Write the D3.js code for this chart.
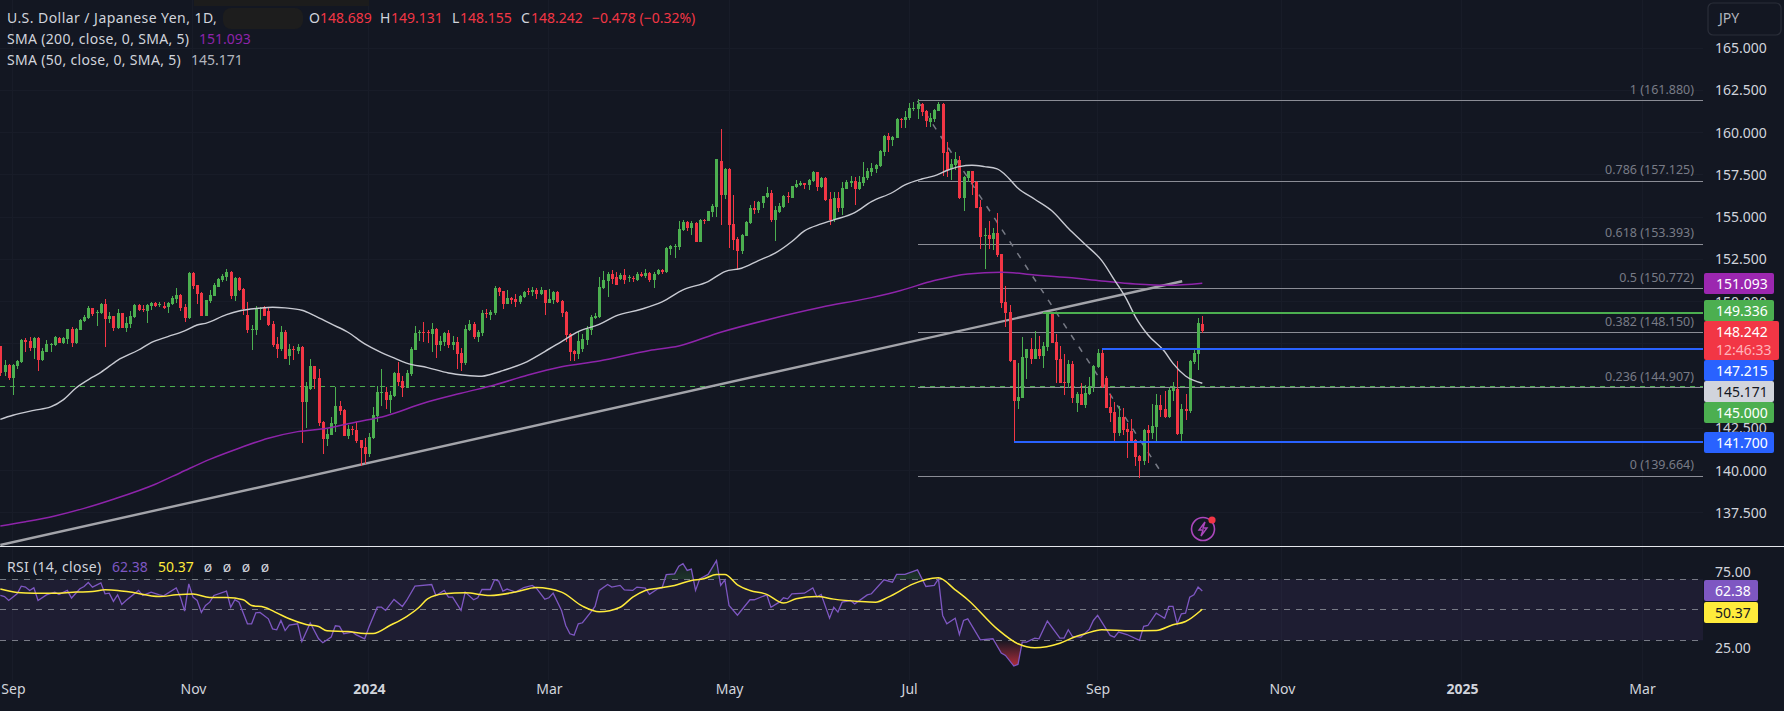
<!DOCTYPE html>
<html>
<head>
<meta charset="utf-8">
<script src="https://cdn.jsdelivr.net/npm/d3@7"></script>
<style>
  html, body { margin: 0; padding: 0; background: #131722; overflow: hidden; }
  text { font-family: "Noto Sans", Roboto, sans-serif; font-size: 14px; }
</style>
</head>
<body>
<div id="chart"></div>
<script>
// o, h, l, c per daily bar
var candles = [
[147.38,147.40,145.60,145.75],[145.86,146.55,145.61,146.26],[146.24,146.30,145.37,145.51],[145.51,146.32,144.48,146.26],[146.20,146.52,146.04,146.49],
[146.44,147.80,146.40,147.74],[147.74,147.86,147.03,147.62],[147.68,147.90,147.09,147.26],[147.26,147.90,146.61,147.86],[147.86,147.88,145.92,146.55],
[146.55,147.26,146.46,147.09],[147.03,147.74,147.00,147.50],[147.48,147.58,147.03,147.52],[147.44,147.97,147.40,147.91],[147.86,147.90,147.54,147.56],
[147.56,147.90,147.52,147.86],[147.80,148.40,147.50,148.37],[148.39,148.51,147.32,147.56],[147.56,148.43,147.52,148.41],[148.33,148.98,148.30,148.92],
[148.84,149.22,148.78,149.12],[149.06,149.75,149.00,149.65],[149.63,149.65,149.18,149.30],[149.37,149.51,148.57,149.41],[149.33,149.95,149.30,149.87],
[149.87,150.16,147.32,148.98],[148.98,149.41,148.76,149.16],[149.16,149.18,148.29,148.45],[148.45,149.57,148.40,149.33],[149.33,149.35,148.42,148.45],
[148.45,149.10,148.21,148.74],[148.68,149.45,148.45,149.16],[149.10,149.87,149.05,149.81],[149.81,149.87,149.47,149.51],[149.57,149.81,149.39,149.51],
[149.45,149.85,148.74,149.81],[149.75,149.97,149.51,149.93],[149.93,149.99,149.69,149.75],[149.85,149.99,149.69,149.89],[149.75,149.99,149.57,149.63],
[149.69,149.96,149.33,149.93],[149.87,150.34,149.81,150.22],[150.16,150.81,149.93,150.40],[150.40,150.46,149.45,149.63],[149.69,149.87,148.80,149.04],
[149.04,151.76,149.00,151.70],[151.70,151.75,150.75,150.93],[150.99,151.00,149.87,150.46],[150.52,150.58,149.14,149.16],[149.16,150.12,149.14,150.10],
[150.04,150.70,149.93,150.40],[150.34,151.11,150.32,150.99],[150.87,151.41,150.85,151.35],[151.29,151.64,151.17,151.52],[151.46,151.94,151.23,151.76],
[151.76,151.80,150.16,150.34],[150.34,151.45,150.04,151.41],[151.41,151.45,150.64,150.70],[150.75,150.81,149.22,149.57],[149.22,149.99,148.15,148.33],
[148.31,148.62,147.15,148.39],[148.33,149.75,148.03,149.63],[149.59,149.71,148.92,149.63],[149.71,149.75,149.14,149.16],[149.45,149.69,148.57,148.62],
[148.68,148.86,147.32,147.44],[147.50,147.91,146.67,147.20],[147.20,148.57,147.09,148.21],[148.21,148.33,146.59,146.61],[146.79,147.50,146.26,147.20],
[147.20,147.38,146.55,147.16],[147.09,147.50,146.91,147.32],[147.32,147.38,141.64,144.07],[144.07,145.25,142.53,145.02],[144.84,146.61,144.80,146.20],
[146.20,146.22,144.84,145.43],[145.49,146.02,142.65,142.83],[142.89,142.95,140.99,141.88],[141.88,142.47,141.47,142.18],[142.12,143.18,142.10,142.83],
[142.77,144.96,142.29,143.83],[143.83,144.13,143.30,143.54],[143.60,143.66,142.04,142.06],[142.06,142.71,141.88,142.47],[142.47,142.65,142.12,142.41],
[142.41,142.89,141.64,141.76],[141.82,141.84,140.28,141.35],[141.41,141.94,140.40,140.99],[140.99,142.24,140.82,142.00],[141.94,143.77,141.88,143.30],
[143.24,145.02,142.89,144.66],[144.62,146.02,143.83,144.66],[144.66,144.96,143.66,144.19],[144.19,144.72,143.42,144.48],[144.42,145.84,144.36,145.78],
[145.78,146.44,145.02,145.25],[145.31,145.61,144.36,144.90],[144.90,145.96,144.88,145.78],[145.73,147.32,145.61,147.20],[147.15,148.57,147.13,148.15],
[148.19,148.33,147.68,148.23],[148.23,148.80,147.62,148.19],[148.19,148.33,147.56,148.15],[148.09,148.74,147.03,148.39],[148.39,148.45,146.67,147.44],
[147.44,147.97,147.09,147.68],[147.62,148.21,147.38,148.15],[148.15,148.33,147.26,147.44],[147.44,147.97,147.15,147.62],[147.62,147.91,146.02,146.91],
[146.97,147.26,145.90,146.38],[146.38,148.62,146.26,148.39],[148.33,148.92,148.27,148.68],[148.68,148.80,147.80,147.91],[147.91,148.33,147.62,148.21],
[148.15,149.51,147.97,149.33],[149.33,149.57,149.04,149.29],[149.22,149.51,148.92,149.39],[149.33,150.93,149.22,150.81],[150.81,150.84,150.34,150.58],
[150.64,150.66,149.57,149.87],[149.87,150.70,149.85,150.22],[150.22,150.28,149.87,150.11],[150.17,150.46,149.69,149.99],[149.99,150.40,149.87,150.34],
[150.28,150.64,150.22,150.58],[150.62,150.82,150.40,150.58],[150.58,150.88,150.34,150.70],[150.70,150.82,150.17,150.46],[150.46,150.88,150.40,150.68],
[150.70,150.72,149.22,149.93],[149.93,150.76,149.91,150.17],[150.11,150.64,149.87,150.58],[150.58,150.64,149.93,149.99],[150.05,150.11,149.10,149.34],
[149.40,149.42,147.62,148.04],[148.10,148.16,146.50,147.03],[147.09,147.15,146.50,146.91],[146.91,148.21,146.62,147.68],[147.21,148.10,147.03,147.80],
[147.74,148.57,147.44,148.39],[148.33,149.22,148.04,149.10],[149.04,149.34,148.98,149.16],[149.10,151.47,149.04,150.88],[150.82,151.82,150.76,151.29],
[151.23,151.76,150.28,151.64],[151.64,151.88,151.05,151.35],[151.47,151.76,150.98,151.00],[151.35,151.70,151.29,151.58],[151.58,151.94,151.05,151.29],
[151.38,151.58,151.17,151.44],[151.41,151.53,151.17,151.37],[151.29,151.76,151.23,151.64],[151.64,151.76,151.47,151.53],[151.53,151.94,151.41,151.70],
[151.70,151.76,151.17,151.29],[151.29,151.76,150.82,151.64],[151.64,151.94,151.58,151.88],[151.88,151.94,151.64,151.76],[151.76,153.24,151.70,153.18],
[153.14,153.36,152.77,153.30],[153.28,153.42,152.59,153.32],[153.24,154.78,153.06,154.31],[154.25,154.84,154.19,154.72],[154.72,154.78,154.19,154.37],
[154.37,154.78,153.95,154.66],[154.66,154.72,153.52,153.54],[153.54,154.90,153.52,154.84],[154.84,154.90,154.60,154.78],[154.78,155.39,154.76,155.37],
[155.31,155.79,155.02,155.67],[155.61,158.47,155.02,158.45],[158.33,160.22,154.54,156.32],[156.32,157.88,156.08,157.86],[157.86,157.88,153.18,154.54],
[154.60,156.32,153.06,153.66],[153.72,153.83,151.88,153.01],[153.01,154.01,152.83,153.95],[153.89,154.78,153.87,154.72],[154.66,155.73,154.60,155.55],
[155.55,155.96,155.19,155.43],[155.43,155.96,155.25,155.90],[155.84,156.28,155.55,156.26],[156.20,156.79,156.14,156.44],[156.44,156.62,154.72,154.84],
[154.84,155.67,153.60,155.43],[155.31,155.85,155.25,155.67],[155.61,156.32,155.55,156.26],[156.26,156.50,155.85,156.20],[156.14,156.87,156.12,156.85],
[156.79,157.21,156.73,156.97],[156.91,157.15,156.85,157.03],[157.03,157.05,156.67,156.91],[156.91,157.23,156.61,157.21],[157.15,157.74,157.09,157.68],
[157.68,157.70,156.55,156.79],[156.79,157.38,156.73,157.32],[157.32,157.38,155.96,156.02],[156.08,156.50,154.54,154.84],[154.84,156.50,154.72,156.14],
[156.14,156.50,155.31,155.55],[155.55,157.09,155.13,156.73],[156.67,157.21,156.65,157.09],[157.03,157.44,156.79,157.15],[157.15,157.38,155.73,156.67],
[156.67,157.44,156.61,157.09],[157.03,158.27,156.85,157.38],[157.32,157.92,157.21,157.74],[157.68,158.21,157.44,157.92],[157.86,158.15,157.62,158.09],
[158.03,158.98,157.97,158.92],[158.86,159.87,158.63,159.81],[159.81,159.99,158.86,159.57],[159.57,159.81,159.22,159.75],[159.69,160.87,159.67,160.81],
[160.81,160.87,160.28,160.77],[160.76,161.29,160.28,160.93],[160.87,161.76,160.76,161.47],[161.41,161.82,161.29,161.45],[161.41,162.00,160.81,161.70],
[161.70,161.76,161.00,161.23],[161.29,161.35,160.34,160.70],[160.64,161.17,160.34,160.87],[160.81,161.41,160.64,161.35],[161.29,161.82,161.27,161.70],
[161.70,161.75,157.44,158.80],[158.86,159.45,157.38,157.80],[157.86,158.45,157.21,158.15],[158.09,158.86,157.80,158.45],[158.39,158.63,156.08,156.14],
[156.14,157.44,155.37,157.38],[157.32,157.76,157.09,157.74],[157.74,157.76,156.32,157.03],[157.09,157.15,155.53,155.55],[155.61,156.02,153.12,153.83],
[153.90,154.37,151.94,153.94],[153.95,154.78,153.12,153.72],[153.72,154.37,153.06,154.07],[154.07,155.25,152.65,152.77],[152.83,152.85,149.63,149.93],
[149.99,150.93,148.51,149.34],[149.39,149.80,146.43,146.49],[146.55,146.57,141.70,144.12],[144.12,146.37,143.65,144.36],[144.30,147.91,144.28,146.73],
[146.67,147.22,145.43,147.20],[147.20,147.85,146.31,146.61],[146.61,148.27,146.59,147.20],[147.20,147.97,146.61,146.79],[146.79,147.62,146.08,147.38],
[147.32,149.39,147.08,149.33],[149.33,149.39,147.54,147.56],[147.62,148.09,145.19,146.55],[146.61,147.38,145.17,145.19],[145.25,146.91,144.48,145.21],
[145.19,146.55,144.89,146.31],[146.31,146.49,144.00,144.30],[144.00,144.66,143.47,144.54],[144.54,145.19,143.87,143.89],[143.89,145.07,143.71,144.60],
[144.54,145.54,144.50,145.01],[144.95,146.25,144.66,146.19],[146.13,147.20,146.10,146.96],[146.96,147.20,144.89,144.95],[145.49,145.60,143.69,143.71],
[143.77,144.54,142.88,143.41],[143.47,144.06,141.76,142.23],[142.23,143.83,142.05,143.18],[143.18,143.71,142.11,142.41],[142.47,142.82,140.75,142.29],
[142.35,143.06,141.74,141.76],[141.82,141.88,140.28,140.81],[140.87,140.93,139.57,140.58],[140.58,142.47,140.34,142.41],[142.41,142.70,140.46,142.23],
[142.23,143.95,141.88,142.65],[142.59,144.54,141.76,143.89],[143.89,144.48,143.18,143.59],[143.65,144.72,143.12,143.18],[143.18,144.90,143.12,144.78],
[144.72,145.25,144.12,144.90],[144.84,146.49,142.11,142.15],[142.17,143.95,141.64,143.65],[143.65,144.54,143.00,143.53],[143.53,146.55,143.41,146.49],
[146.43,147.26,146.31,146.96],[146.91,149.04,145.96,148.74],[148.689,149.131,148.155,148.242]
];

// [bar index, value]
var sma50 = [[0,143.04],[3,143.28],[8,143.57],[12,143.77],[15,144.19],[18,144.88],[22,145.53],[24,145.82],[28,146.53],[33,147.14],[36,147.58],[40,147.93],[44,148.27],[47,148.62],[49,148.72],[54,149.23],[57,149.45],[62,149.62],[65,149.67],[68,149.63],[72,149.49],[75,149.18],[79,148.68],[83,148.19],[87,147.50],[91,146.99],[94,146.67],[97,146.36],[102,146.10],[107,145.78],[111,145.65],[115,145.59],[117,145.69],[120,145.92],[125,146.36],[130,147.05],[134,147.64],[138,148.23],[143,148.66],[147,149.16],[153,149.55],[158,149.99],[163,150.70],[169,151.19],[173,151.78],[177,151.98],[181,152.43],[185,152.87],[189,153.56],[192,154.19],[196,154.60],[199,154.84],[204,155.27],[208,155.92],[213,156.46],[216,156.91],[220,157.26],[223,157.44],[226,157.76],[229,157.99],[232,158.07],[235,157.99],[238,157.86],[240,157.50],[243,156.71],[247,156.06],[251,155.39],[255,154.35],[259,153.40],[263,152.43],[266,151.29],[269,150.11],[271,149.12],[274,148.04],[278,147.05],[280,146.35],[283,145.60],[287,145.171]];
var sma200 = [[0,136.73],[6,136.98],[13,137.32],[20,137.77],[27,138.31],[37,139.20],[43,139.88],[50,140.67],[57,141.33],[64,141.92],[71,142.31],[78,142.51],[85,142.88],[92,143.24],[101,143.99],[110,144.58],[118,145.07],[126,145.66],[134,146.15],[143,146.49],[155,147.11],[162,147.38],[172,148.19],[183,148.92],[196,149.67],[208,150.24],[215,150.66],[223,151.25],[231,151.64],[239,151.74],[247,151.58],[255,151.43],[263,151.23],[271,151.05],[279,150.97],[287,151.093]];
var rsi = [[0,59.4],[1,58.7],[2,56.1],[4,60.5],[5,65.5],[6,64.9],[7,62.7],[8,64.4],[9,56.1],[11,59.8],[13,61.6],[14,60.1],[16,62.7],[17,57.7],[19,63.8],[20,65.3],[21,67.9],[22,64.9],[24,67.7],[25,60.5],[26,60.9],[27,55.5],[28,59.8],[29,53.5],[30,56.1],[33,62.7],[34,59.4],[36,61.6],[38,59.8],[39,59.2],[42,64.4],[43,58.3],[44,49.1],[45,67.0],[46,58.3],[47,56.1],[48,48.3],[49,52.8],[50,55.0],[51,59.4],[54,62.2],[55,51.7],[56,56.6],[57,55.0],[59,40.8],[60,40.8],[61,48.0],[62,48.3],[64,44.1],[65,37.5],[66,36.9],[67,43.0],[68,36.4],[69,39.9],[71,40.8],[72,29.2],[74,41.3],[76,31.0],[77,28.4],[79,32.1],[80,39.5],[81,39.1],[82,34.3],[84,35.4],[85,33.6],[87,31.0],[88,38.6],[90,51.7],[91,51.7],[92,49.6],[94,56.8],[96,52.2],[97,56.1],[99,65.5],[103,66.6],[104,59.4],[106,62.7],[107,58.3],[108,58.3],[110,49.6],[111,61.6],[113,56.6],[114,57.9],[115,63.3],[117,63.3],[118,69.7],[119,68.8],[120,62.2],[121,63.6],[123,61.6],[125,64.6],[127,66.0],[128,64.2],[130,57.0],[131,57.9],[132,60.9],[134,49.6],[135,39.7],[136,34.3],[137,33.4],[138,40.8],[139,41.5],[141,48.5],[142,52.2],[143,62.7],[145,66.6],[146,64.9],[148,66.0],[149,63.1],[151,62.7],[152,64.9],[154,64.2],[155,60.1],[157,63.8],[158,64.4],[159,73.0],[161,73.6],[162,78.6],[163,80.2],[164,75.8],[165,76.7],[166,62.7],[167,70.3],[169,73.2],[171,82.3],[172,66.0],[173,69.7],[174,52.8],[176,46.5],[179,56.6],[180,56.6],[183,59.8],[184,51.7],[186,55.0],[187,57.9],[188,57.2],[189,60.5],[192,60.9],[194,64.4],[195,58.3],[196,60.1],[198,44.5],[199,51.7],[200,48.5],[201,55.0],[203,56.1],[204,53.9],[207,59.8],[208,60.5],[211,69.7],[213,68.1],[214,73.2],[216,73.2],[219,76.2],[221,65.3],[223,66.0],[224,70.3],[225,46.3],[226,40.8],[228,44.5],[229,33.8],[230,43.0],[231,44.1],[234,30.3],[237,31.0],[239,21.6],[240,20.1],[242,13.1],[243,14.2],[244,28.8],[245,28.8],[247,31.4],[248,31.0],[250,42.6],[253,31.4],[254,31.4],[255,36.9],[256,32.5],[258,32.1],[260,37.1],[261,43.0],[262,46.3],[265,33.2],[266,32.1],[267,35.4],[269,33.8],[272,29.9],[273,39.1],[274,39.7],[276,47.8],[278,44.5],[279,52.2],[280,52.2],[281,40.8],[282,47.4],[283,47.8],[284,58.3],[285,59.8],[286,64.9],[287,62.38]];
var rsiMa = [[0,63.6],[4,61.4],[8,60.9],[14,60.9],[18,61.6],[22,62.0],[25,63.1],[28,62.7],[31,61.6],[38,58.7],[42,59.8],[46,60.3],[50,58.1],[54,58.1],[58,56.6],[60,52.8],[63,51.7],[66,48.0],[69,44.1],[73,40.4],[76,39.1],[78,36.2],[83,35.8],[87,34.5],[89,34.5],[93,39.7],[97,45.6],[100,51.7],[102,57.2],[106,60.5],[111,61.1],[117,59.4],[123,61.6],[128,64.6],[134,61.6],[139,52.4],[143,48.7],[148,51.7],[151,58.3],[154,62.7],[157,64.2],[161,66.0],[165,69.2],[168,70.3],[171,73.2],[173,73.2],[176,66.4],[179,62.7],[183,60.1],[187,54.4],[190,57.2],[195,58.7],[199,57.0],[205,55.5],[209,55.0],[212,58.3],[218,67.0],[221,69.9],[224,71.0],[228,63.1],[231,56.6],[238,37.5],[243,27.7],[247,25.1],[253,28.1],[257,32.7],[259,34.3],[263,36.9],[270,36.2],[276,36.4],[280,40.2],[283,42.3],[287,50.37]];

var fibRatios = ["1","0.786","0.618","0.5","0.382","0.236","0"];
var fibPrices = [161.880,157.125,153.393,150.772,148.150,144.907,139.664];
var priceTicks = [137.5,140,142.5,145,147.5,150,152.5,155,157.5,160,162.5,165];
var hiddenTicks = [145,147.5]; // sit fully behind the price tags
var rsiTicks = [25,75];
var rsiLevels = [70,50,30];
var timeTickBars = [3,46,88,131,174,217,262,306,349,392];
var timeTickLabels = ["Sep","Nov","2024","Mar","May","Jul","Sep","Nov","2025","Mar"];
var trendLine = [[0,135.6],[282.2,151.21]];
var hLines = [
  {from:-5,  price:145.0,   color:"#4caf50", w:1, dash:"5,5"},
  {from:249, price:149.336, color:"#4caf50", w:2},
  {from:263, price:147.215, color:"#2962ff", w:2},
  {from:242, price:141.7,   color:"#2962ff", w:2}
];

var W = 1784, H = 711, paneR = 1703, paneB = 546;
var GREEN = "#4caf50", RED = "#f23645", PURPLE = "#9c27b0", SMA_PURPLE = "#8e24aa";

var svg = d3.select("#chart").append("svg").attr("width", W).attr("height", H);
svg.append("rect").attr("width", W).attr("height", H).attr("fill", "#131722");

var x = d3.scaleLinear().domain([0, 287]).range([0.33, 1202.3]);
var y = d3.scaleLinear().domain([139.664, 161.88]).range([476.35, 100.9]);
var yRsi = d3.scaleLinear().domain([30, 70]).range([640.3, 579.3]);

var defs = svg.append("defs");
defs.append("clipPath").attr("id", "pricePane").append("rect").attr("width", paneR).attr("height", paneB);
defs.append("clipPath").attr("id", "over70").append("rect").attr("width", paneR).attr("y", 547).attr("height", yRsi(70) - 547);
defs.append("clipPath").attr("id", "under30").append("rect").attr("width", paneR).attr("y", yRsi(30)).attr("height", 60);
var redGrad = defs.append("linearGradient").attr("id", "redGrad").attr("gradientUnits", "userSpaceOnUse")
  .attr("x1", 0).attr("x2", 0).attr("y1", yRsi(30)).attr("y2", yRsi(13));
redGrad.append("stop").attr("offset", 0).attr("stop-color", RED).attr("stop-opacity", 0.02);
redGrad.append("stop").attr("offset", 1).attr("stop-color", RED).attr("stop-opacity", 0.7);
var greenGrad = defs.append("linearGradient").attr("id", "greenGrad").attr("gradientUnits", "userSpaceOnUse")
  .attr("x1", 0).attr("x2", 0).attr("y1", yRsi(70)).attr("y2", yRsi(82));
greenGrad.append("stop").attr("offset", 0).attr("stop-color", GREEN).attr("stop-opacity", 0.2);
greenGrad.append("stop").attr("offset", 1).attr("stop-color", GREEN).attr("stop-opacity", 0.02);

// faint grid
var grid = svg.append("g").attr("stroke", "#181c28").attr("stroke-width", 1).attr("shape-rendering", "crispEdges");
grid.selectAll(".gv").data(timeTickBars).enter().append("line")
  .attr("x1", d => x(d)).attr("x2", d => x(d)).attr("y1", 0).attr("y2", 680);
grid.selectAll(".gh").data(priceTicks).enter().append("line")
  .attr("x1", 0).attr("x2", paneR).attr("y1", d => y(d)).attr("y2", d => y(d));

var price = svg.append("g").attr("clip-path", "url(#pricePane)");

// fib levels, drawn under the bars
price.selectAll(".fib").data(fibPrices).enter().append("line")
  .attr("x1", x(219)).attr("x2", paneR).attr("y1", d => y(d)).attr("y2", d => y(d))
  .attr("stroke", "#8b8d96").attr("stroke-width", 1).attr("shape-rendering", "crispEdges");
price.append("line")
  .attr("x1", x(219)).attr("y1", y(161.88)).attr("x2", x(277.2)).attr("y2", y(139.9))
  .attr("stroke", "#787b86").attr("stroke-width", 1.5).attr("stroke-dasharray", "6,8");

var dashed = hLines.filter(d => d.dash);
price.selectAll(".hd").data(dashed).enter().append("line")
  .attr("x1", 0).attr("x2", paneR).attr("y1", d => y(d.price)).attr("y2", d => y(d.price))
  .attr("stroke", d => d.color).attr("stroke-width", d => d.w).attr("stroke-dasharray", d => d.dash)
  .attr("shape-rendering", "crispEdges");

price.append("path").datum(trendLine)
  .attr("d", d3.line().x(d => x(d[0])).y(d => y(d[1])))
  .attr("fill", "none").attr("stroke", "#a3a4aa").attr("stroke-width", 2.4);

// bars
var bars = price.selectAll(".bar").data(candles).enter().append("g").attr("class", "bar")
  .attr("fill", d => d[3] >= d[0] ? GREEN : RED)
  .attr("stroke", d => d[3] >= d[0] ? GREEN : RED)
  .attr("shape-rendering", "crispEdges");
bars.append("line")
  .attr("x1", (d, i) => Math.round(x(i)) + 0.5).attr("x2", (d, i) => Math.round(x(i)) + 0.5)
  .attr("y1", d => y(d[1])).attr("y2", d => y(d[2])).attr("stroke-width", 1);
bars.append("rect")
  .attr("x", (d, i) => Math.round(x(i)) - 1).attr("width", 3)
  .attr("y", d => y(Math.max(d[0], d[3])))
  .attr("height", d => Math.max(1, Math.abs(y(d[0]) - y(d[3]))))
  .attr("stroke", "none");

var lineGen = d3.line().curve(d3.curveMonotoneX).x(d => x(d[0])).y(d => y(d[1]));
price.append("path").datum(sma200).attr("d", lineGen).attr("fill", "none").attr("stroke", SMA_PURPLE).attr("stroke-width", 1.5);
price.append("path").datum(sma50).attr("d", lineGen).attr("fill", "none").attr("stroke", "#c8cad2").attr("stroke-width", 1.4);

var solid = hLines.filter(d => !d.dash);
price.selectAll(".hs").data(solid).enter().append("line")
  .attr("x1", d => x(d.from)).attr("x2", paneR).attr("y1", d => y(d.price)).attr("y2", d => y(d.price))
  .attr("stroke", d => d.color).attr("stroke-width", d => d.w).attr("shape-rendering", "crispEdges");

// fib labels
svg.selectAll(".fibLabel").data(fibPrices).enter().append("text")
  .attr("x", 1694).attr("y", d => y(d) - 7).attr("text-anchor", "end")
  .attr("fill", "#787b86").style("font-size", "12.5px")
  .text((d, i) => fibRatios[i] + " (" + d.toFixed(3) + ")");

// lightning badge
var badge = svg.append("g").attr("transform", "translate(1203,529)");
badge.append("circle").attr("r", 11.5).attr("fill", "none").attr("stroke", "#ab47bc").attr("stroke-width", 1.6);
badge.append("path").attr("d", "M2,-7 L-4,1 L0,1 L-2,7 L4,-1 L0,-1 Z").attr("fill", "none").attr("stroke", "#ab47bc").attr("stroke-width", 1.4);
badge.append("circle").attr("cx", 9).attr("cy", -9).attr("r", 3.6).attr("fill", RED);

// pane divider
svg.append("line").attr("x1", 0).attr("x2", W).attr("y1", 546.5).attr("y2", 546.5)
  .attr("stroke", "#e4e6eb").attr("stroke-width", 1.4).attr("shape-rendering", "crispEdges");

// RSI pane
svg.append("rect").attr("x", 0).attr("width", paneR).attr("y", yRsi(70)).attr("height", yRsi(30) - yRsi(70))
  .attr("fill", "#7e57c2").attr("fill-opacity", 0.1);
svg.selectAll(".lvl").data(rsiLevels).enter().append("line")
  .attr("x1", 0).attr("x2", paneR).attr("y1", d => yRsi(d)).attr("y2", d => yRsi(d))
  .attr("stroke", "#787b86").attr("stroke-dasharray", "6,6").attr("shape-rendering", "crispEdges");

svg.append("path").datum(rsi)
  .attr("d", d3.area().x(d => x(d[0])).y0(yRsi(70)).y1(d => yRsi(d[1])))
  .attr("fill", "url(#greenGrad)").attr("clip-path", "url(#over70)");
svg.append("path").datum(rsi)
  .attr("d", d3.area().x(d => x(d[0])).y0(yRsi(30)).y1(d => yRsi(d[1])))
  .attr("fill", "url(#redGrad)").attr("clip-path", "url(#under30)");

var rsiLine = d3.line().x(d => x(d[0])).y(d => yRsi(d[1]));
svg.append("path").datum(rsi).attr("d", rsiLine).attr("fill", "none").attr("stroke", "#7e57c2").attr("stroke-width", 1.3);
svg.append("path").datum(rsiMa).attr("d", rsiLine.curve(d3.curveMonotoneX)).attr("fill", "none").attr("stroke", "#ffeb3b").attr("stroke-width", 1.5);

// axes
function styleAxis(g) {
  g.select(".domain").remove();
  g.selectAll("text").attr("fill", "#d1d4dc").style("font-size", "14px").style("font-family", "'Noto Sans', Roboto, sans-serif");
}
svg.append("g").attr("transform", "translate(1715,0)")
  .call(d3.axisRight(y).tickValues(priceTicks.filter(d => !hiddenTicks.includes(d))).tickFormat(d3.format(".3f")).tickSize(0).tickPadding(0))
  .call(styleAxis);
svg.append("g").attr("transform", "translate(1715,0)")
  .call(d3.axisRight(yRsi).tickValues(rsiTicks).tickFormat(d3.format(".2f")).tickSize(0).tickPadding(0))
  .call(styleAxis);
svg.append("g").attr("transform", "translate(0,684)")
  .call(d3.axisBottom(x).tickValues(timeTickBars).tickFormat((d, i) => timeTickLabels[i]).tickSize(0).tickPadding(0))
  .call(styleAxis)
  .selectAll("text").style("font-weight", (d, i) => /^20/.test(timeTickLabels[i]) ? 700 : 400);

// right hand price tags
var tags = [
  {v:"151.093", top:273, h:21, bg:PURPLE,    fg:"#fff"},
  {v:"149.336", top:300, h:21, bg:GREEN,     fg:"#fff"},
  {v:"147.215", top:360, h:21, bg:"#2962ff", fg:"#fff"},
  {v:"145.171", top:381, h:21, bg:"#d1d4dc", fg:"#131722"},
  {v:"145.000", top:402, h:21, bg:GREEN,     fg:"#fff"},
  {v:"141.700", top:432, h:21, bg:"#2962ff", fg:"#fff"}
];
svg.selectAll(".tag").data(tags).enter().append("rect")
  .attr("x", 1704).attr("y", d => d.top).attr("width", 70).attr("height", d => d.h).attr("rx", 2).attr("fill", d => d.bg);
svg.selectAll(".tagText").data(tags).enter().append("text")
  .attr("x", 1716).attr("y", d => d.top + d.h / 2 + 5).attr("fill", d => d.fg).text(d => d.v);
svg.append("rect").attr("x", 1704).attr("y", 321).attr("width", 75).attr("height", 39).attr("rx", 2).attr("fill", RED);
svg.append("text").attr("x", 1716).attr("y", 336.5).attr("fill", "#fff").text("148.242");
svg.append("text").attr("x", 1716).attr("y", 355).attr("fill", "#ffb3ba").text("12:46:33");

var rsiTags = [{v:"62.38", top:580, bg:"#7e57c2", fg:"#fff"},{v:"50.37", top:602, bg:"#ffeb3b", fg:"#131722"}];
svg.selectAll(".rsiTag").data(rsiTags).enter().append("rect")
  .attr("x", 1704).attr("y", d => d.top).attr("width", 54).attr("height", 21).attr("rx", 2).attr("fill", d => d.bg);
svg.selectAll(".rsiTagText").data(rsiTags).enter().append("text")
  .attr("x", 1715).attr("y", d => d.top + 15.5).attr("fill", d => d.fg).text(d => d.v);

// JPY box
svg.append("rect").attr("x", 1708).attr("y", 3).attr("width", 73).attr("height", 32).attr("rx", 5)
  .attr("fill", "none").attr("stroke", "#2a2e39").attr("stroke-width", 1.2);
svg.append("text").attr("x", 1719).attr("y", 23).attr("fill", "#b2b5be").text("JPY");

// legend
function legend(px, py, str, color, spacing) {
  svg.append("text").attr("x", px).attr("y", py).attr("fill", color)
    .style("letter-spacing", (spacing || 0) + "px").text(str);
}
var WHITE = "#d1d4dc";
legend(7, 23, "U.S. Dollar / Japanese Yen, 1D,", WHITE, 0.45);
svg.append("rect").attr("x", 223).attr("y", 8).attr("width", 80).attr("height", 21).attr("rx", 8).attr("fill", "#1d1d1d");
svg.append("rect").attr("x", 194).attr("y", 0).attr("width", 175).attr("height", 6).attr("fill", "#1c1c1c");
legend(309, 23, "O", WHITE); legend(320, 23, "148.689", RED);
legend(380, 23, "H", WHITE); legend(391, 23, "149.131", RED);
legend(452, 23, "L", WHITE); legend(460, 23, "148.155", RED);
legend(521, 23, "C", WHITE); legend(531, 23, "148.242", RED);
legend(592, 23, "\u22120.478 (\u22120.32%)", RED);
legend(7, 44, "SMA (200, close, 0, SMA, 5)", WHITE, 0.32); legend(199, 44, "151.093", SMA_PURPLE);
legend(7, 65, "SMA (50, close, 0, SMA, 5)", WHITE, 0.32); legend(191, 65, "145.171", "#b2b5be");
legend(7, 572, "RSI (14, close)", WHITE, 0.3);
legend(112, 572, "62.38", "#7e57c2");
legend(158, 572, "50.37", "#ffeb3b");
d3.range(4).forEach(function(i) {
  svg.append("text").attr("x", 208 + i * 19).attr("y", 572).attr("text-anchor", "middle").attr("fill", WHITE).text("\u00f8");
});
</script>
</body>
</html>
